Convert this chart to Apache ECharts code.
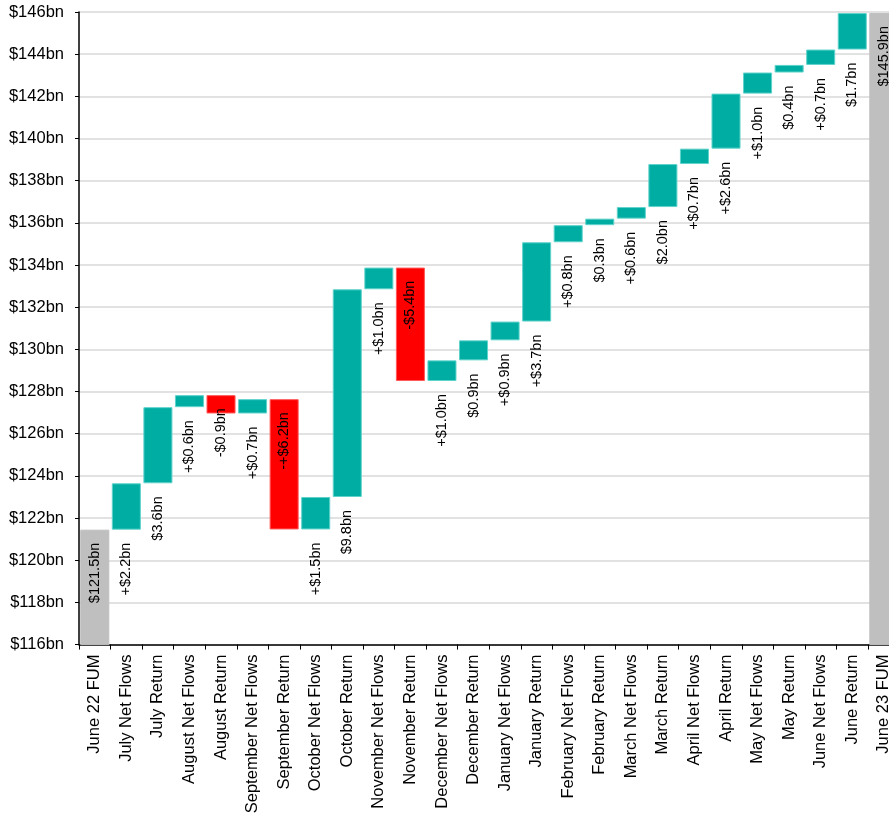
<!DOCTYPE html>
<html>
<head>
<meta charset="utf-8">
<script src="https://cdn.jsdelivr.net/npm/echarts@6/dist/echarts.min.js"></script>
<style>
html,body{margin:0;padding:0;background:#fff;}
#chart{width:889px;height:818px;}
</style>
</head>
<body>
<div id="chart"></div>
<script>
const categories = [
  "June 22 FUM","July Net Flows","July Return","August Net Flows","August Return",
  "September Net Flows","September Return","October Net Flows","October Return",
  "November Net Flows","November Return","December Net Flows","December Return",
  "January Net Flows","January Return","February Net Flows","February Return",
  "March Net Flows","March Return","April Net Flows","April Return",
  "May Net Flows","May Return","June Net Flows","June Return","June 23 FUM"
];
const openingFUM = 121.45;
const changes = [2.2, 3.61, 0.57, -0.87, 0.68, -6.18, 1.54, 9.85, 1.03, -5.38, 0.98, 0.95,
  0.89, 3.76, 0.81, 0.31, 0.55, 2.04, 0.73, 2.61, 1.0, 0.36, 0.73, 1.73];
const closingFUM = 145.95;
const valueLabels = [
  "$121.5bn","+$2.2bn","$3.6bn","+$0.6bn","-$0.9bn","+$0.7bn","-+$6.2bn","+$1.5bn",
  "$9.8bn","+$1.0bn","-$5.4bn","+$1.0bn","$0.9bn","+$0.9bn","+$3.7bn","+$0.8bn",
  "$0.3bn","+$0.6bn","$2.0bn","+$0.7bn","+$2.6bn","+$1.0bn","$0.4bn","+$0.7bn",
  "$1.7bn","$145.9bn"
];
const yTicks = { min: 116, max: 146, step: 2 };

const TEAL = '#00ADA3', RED = '#FF0000', GREY = '#BFBFBF';
const FONT = 'Liberation Sans, Arial, sans-serif';
const labelBase = {
  show: true, position: 'insideTop', rotate: 90, align: 'right', verticalAlign: 'middle',
  distance: 13, fontFamily: FONT, fontSize: 14.5, color: '#000'
};

const baseData = [], barData = [];
baseData.push({ value: 0, label: { show: false } });
barData.push({ value: openingFUM, itemStyle: { color: GREY, borderColor: GREY }, label: Object.assign({}, labelBase, { formatter: valueLabels[0] }) });
let level = openingFUM;
changes.forEach((d, i) => {
  const idx = i + 1;
  if (d >= 0) {
    baseData.push({ value: level, label: Object.assign({}, labelBase, { formatter: valueLabels[idx] }) });
    barData.push({ value: d, itemStyle: { color: TEAL, borderColor: '#5fd3cb' }, label: { show: false } });
  } else {
    baseData.push({ value: level + d, label: { show: false } });
    barData.push({ value: -d, itemStyle: { color: RED, borderColor: '#ff5a5a' }, label: Object.assign({}, labelBase, { formatter: valueLabels[idx] }) });
  }
  level += d;
});
baseData.push({ value: 0, label: { show: false } });
barData.push({ value: closingFUM, itemStyle: { color: GREY, borderColor: GREY }, label: Object.assign({}, labelBase, { formatter: valueLabels[valueLabels.length - 1] }) });

const chart = echarts.init(document.getElementById('chart'), null, { renderer: 'canvas' });
chart.setOption({
  animation: false,
  textStyle: { fontFamily: FONT },
  grid: { left: 79, top: 12, width: 820.6, height: 632.6, containLabel: false, outerBoundsMode: 'none' },
  xAxis: {
    type: 'category', data: categories,
    axisLine: { lineStyle: { color: '#000', width: 1.5 } },
    axisTick: { show: true, length: 5, lineStyle: { color: '#000' } },
    axisLabel: { rotate: 90, fontSize: 16.5, color: '#000', margin: 10, interval: 0, fontFamily: FONT }
  },
  yAxis: {
    type: 'value', min: yTicks.min, max: yTicks.max, interval: yTicks.step,
    axisLine: { show: true, lineStyle: { color: '#000', width: 1.5 } },
    axisTick: { show: true, length: 4, lineStyle: { color: '#000' } },
    splitLine: { lineStyle: { color: '#d9d9d9', width: 1.5 } },
    axisLabel: { fontSize: 16.5, color: '#000', margin: 15, formatter: v => '$' + v + 'bn', fontFamily: FONT }
  },
  series: [
    { type: 'bar', stack: 'w', data: baseData, barCategoryGap: '8%',
      itemStyle: { color: 'rgba(0,0,0,0)' }, emphasis: { disabled: true }, silent: true, z: 1 },
    { type: 'bar', stack: 'w', data: barData, barCategoryGap: '8%',
      itemStyle: { borderWidth: 1 }, emphasis: { disabled: true }, z: 2 }
  ]
});
</script>
</body>
</html>
